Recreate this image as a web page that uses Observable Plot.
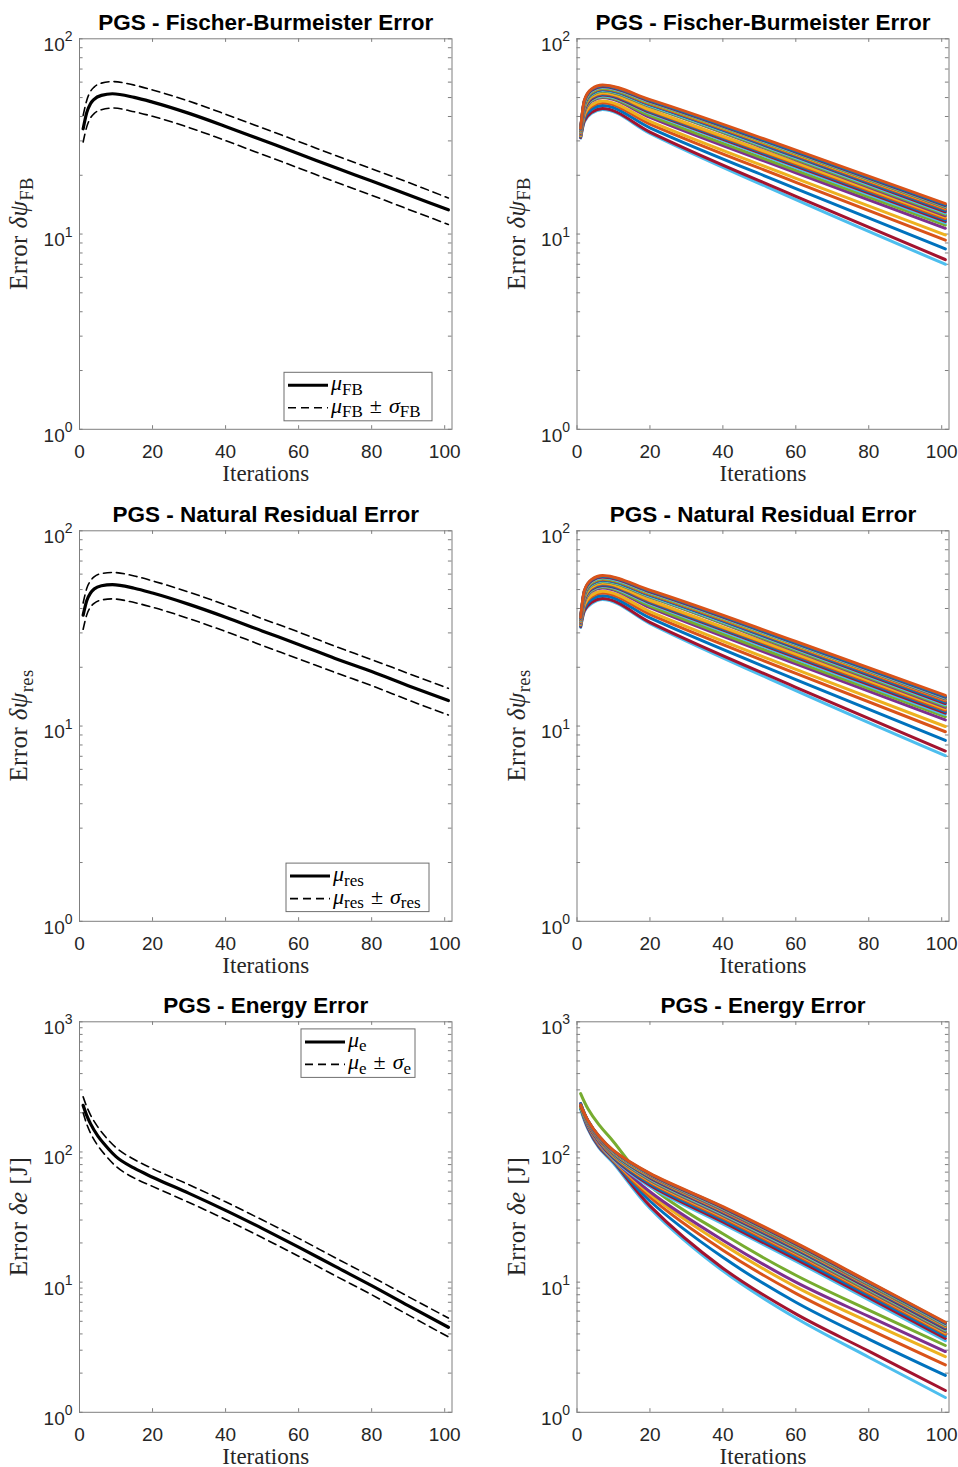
<!DOCTYPE html>
<html><head><meta charset="utf-8">
<script src="https://cdn.jsdelivr.net/npm/d3@7"></script>
<script src="https://cdn.jsdelivr.net/npm/@observablehq/plot@0.6"></script>
<style>
html, body { margin:0; padding:0; background:#fff; overflow:hidden; }
#root { position:relative; width:958px; height:1467px; }
.panel { position:absolute; }
</style></head><body><div id="root"></div>
<script>
// ---------------- DATA ----------------
const X_TICKS = [0, 20, 40, 60, 80, 100];
const MINOR_MULT = [2, 3, 4, 5, 6, 7, 8, 9];

// Left column: mean and mean ± std
const ITER_MEAN = [1, 2, 3, 4, 6, 9, 15, 20, 30, 40, 50, 60, 70, 80, 90, 101];
const FB_MEAN  = [34.6, 42.0, 46.5, 49.0, 51.3, 52.3, 50.1, 47.4, 41.5, 35.6, 30.3, 25.8, 21.9, 18.7, 15.9, 13.3];
const FB_UPPER = [40.5, 48.5, 53.7, 56.6, 59.3, 60.4, 57.9, 54.7, 47.9, 41.1, 35.0, 29.8, 25.3, 21.6, 18.4, 15.3];
const FB_LOWER = [29.6, 35.5, 39.3, 41.4, 43.3, 44.2, 42.3, 40.1, 35.1, 30.1, 25.6, 21.8, 18.5, 15.8, 13.4, 11.2];

const NR_MEAN  = [37.0, 44.0, 48.0, 50.3, 52.3, 53.0, 50.8, 48.0, 42.0, 36.1, 30.7, 26.2, 22.2, 19.0, 16.1, 13.5];
const NR_UPPER = [42.7, 50.8, 55.4, 58.1, 60.4, 61.2, 58.7, 55.4, 48.5, 41.7, 35.5, 30.3, 25.6, 21.9, 18.6, 15.6];
const NR_LOWER = [31.3, 37.2, 40.6, 42.5, 44.2, 44.8, 42.9, 40.6, 35.5, 30.5, 25.9, 22.1, 18.8, 16.1, 13.6, 11.4];

const ITER_E_MEAN = [1, 2, 3, 5, 7, 10, 15, 20, 30, 40, 50, 60, 70, 80, 90, 101];
const E_MEAN  = [228, 190, 165, 133, 113, 92, 75, 64, 48.1, 35.6, 25.9, 18.6, 13.2, 9.4, 6.6, 4.5];
const E_UPPER = [265, 222, 193, 156, 132, 108, 87.5, 74.5, 56.0, 41.4, 30.1, 21.7, 15.4, 11.0, 7.75, 5.3];
const E_LOWER = [200, 163, 140, 112, 95, 77.5, 63, 54.4, 40.9, 30.3, 22.0, 15.8, 11.2, 8.0, 5.6, 3.8];

// Right column: individual runs (run 1 .. run 25)
const ITER_RUNS = [1, 2, 4, 7, 20, 60, 101];
const FB_RUNS = [
  [31.0, 37.5, 41.5, 43.5, 32.8, 15.0, 7.0],
  [31.2, 38.0, 42.0, 44.0, 33.3, 15.6, 7.4],
  [31.5, 39.0, 43.5, 45.5, 35.0, 17.1, 8.4],
  [31.8, 40.0, 45.0, 47.0, 36.6, 18.4, 9.3],
  [32.0, 40.8, 45.8, 48.0, 37.8, 19.3, 9.9],
  [32.3, 42.0, 47.8, 50.0, 39.6, 20.6, 10.7],
  [32.5, 42.5, 48.3, 50.5, 40.4, 21.2, 11.1],
  [32.6, 42.8, 48.7, 51.0, 41.5, 21.9, 11.4],
  [32.8, 43.2, 49.2, 51.5, 42.0, 22.3, 11.6],
  [33.0, 43.6, 49.7, 52.0, 42.4, 22.6, 11.8],
  [33.1, 44.0, 50.1, 52.5, 42.9, 22.9, 12.0],
  [33.2, 44.4, 50.6, 53.0, 43.3, 23.2, 12.2],
  [33.4, 45.2, 51.6, 54.0, 45.0, 24.0, 12.4],
  [33.5, 45.2, 51.6, 54.0, 45.1, 24.2, 12.6],
  [33.6, 45.6, 52.0, 54.5, 45.5, 24.6, 12.8],
  [33.8, 46.0, 52.5, 55.0, 46.0, 24.9, 13.0],
  [33.9, 46.0, 52.5, 55.0, 46.1, 25.1, 13.2],
  [34.0, 46.4, 53.0, 55.5, 46.5, 25.4, 13.4],
  [34.1, 46.8, 53.5, 56.0, 47.0, 25.7, 13.6],
  [34.3, 47.8, 54.5, 57.0, 47.8, 26.0, 13.7],
  [34.3, 46.8, 53.5, 56.0, 47.1, 25.9, 13.8],
  [34.4, 47.2, 54.0, 56.5, 47.5, 26.1, 13.9],
  [34.5, 47.6, 54.5, 57.0, 47.9, 26.3, 14.0],
  [34.6, 48.0, 55.0, 57.5, 48.3, 26.5, 14.1],
  [34.8, 48.4, 55.4, 58.0, 48.8, 26.9, 14.3]
];
const NR_RUNS = [
  [32.0, 38.5, 42.4, 44.5, 33.5, 15.2, 7.05],
  [32.3, 39.0, 43.0, 45.0, 34.0, 15.8, 7.45],
  [32.6, 40.0, 44.5, 46.5, 35.8, 17.3, 8.45],
  [33.0, 41.0, 46.0, 48.0, 37.3, 18.6, 9.35],
  [33.2, 41.8, 46.8, 49.0, 38.6, 19.5, 9.95],
  [33.5, 43.0, 48.8, 51.0, 40.4, 20.8, 10.75],
  [33.7, 43.5, 49.3, 51.5, 41.2, 21.4, 11.15],
  [33.8, 43.8, 49.7, 52.0, 42.3, 22.1, 11.45],
  [34.0, 44.2, 50.2, 52.5, 42.8, 22.5, 11.65],
  [34.2, 44.6, 50.7, 53.0, 43.2, 22.8, 11.85],
  [34.3, 45.0, 51.1, 53.5, 43.7, 23.1, 12.05],
  [34.4, 45.4, 51.6, 54.0, 44.1, 23.4, 12.25],
  [34.6, 46.2, 52.6, 55.0, 45.8, 24.2, 12.45],
  [34.7, 46.2, 52.6, 55.0, 45.9, 24.4, 12.65],
  [34.8, 46.6, 53.0, 55.5, 46.3, 24.8, 12.85],
  [35.0, 47.0, 53.5, 56.0, 46.8, 25.1, 13.05],
  [35.1, 47.0, 53.5, 56.0, 46.9, 25.3, 13.25],
  [35.2, 47.4, 54.0, 56.5, 47.3, 25.6, 13.45],
  [35.3, 47.8, 54.5, 57.0, 47.8, 25.9, 13.65],
  [35.5, 48.8, 55.5, 58.0, 48.6, 26.2, 13.75],
  [35.5, 47.8, 54.5, 57.0, 47.9, 26.1, 13.85],
  [35.6, 48.2, 55.0, 57.5, 48.3, 26.3, 13.95],
  [35.7, 48.6, 55.5, 58.0, 48.7, 26.5, 14.05],
  [35.8, 49.0, 56.0, 58.5, 49.1, 26.7, 14.15],
  [36.0, 49.4, 56.4, 59.0, 49.6, 27.1, 14.35]
];
const ITER_E_RUNS = [1, 3, 6, 10, 20, 40, 60, 80, 101];
const E_RUNS = [
  [212, 150, 108, 82, 37, 12.2, 5.3, 2.65, 1.30],
  [218, 153, 110, 84, 38.5, 12.8, 5.7, 2.95, 1.47],
  [220, 156, 112, 85, 42, 15.5, 7.0, 3.65, 1.92],
  [222, 159, 114, 86, 45, 17.6, 8.2, 4.35, 2.31],
  [224, 161, 116, 87, 47.5, 19.5, 9.2, 4.95, 2.68],
  [225, 163, 117, 88, 49.5, 21.0, 10.0, 5.45, 2.93],
  [281, 215, 162, 120, 55, 23.5, 11.3, 6.1, 3.26],
  [222, 160, 118, 88, 54, 28.0, 14.5, 7.3, 3.55],
  [226, 161.5, 119.5, 89.5, 55.5, 29.0, 15.0, 7.6, 3.70],
  [218, 163, 121, 91, 57, 30.0, 15.6, 7.9, 3.85],
  [230, 164.5, 122.5, 92.5, 58.5, 31.0, 16.2, 8.2, 3.98],
  [224, 165.5, 123.5, 93.5, 59.7, 31.8, 16.6, 8.4, 4.08],
  [232, 166.5, 124.5, 94.5, 60.7, 32.4, 16.9, 8.55, 4.16],
  [220, 167.5, 125.5, 95.5, 61.6, 33.0, 17.2, 8.7, 4.24],
  [228, 168.3, 126.3, 96.3, 62.4, 33.5, 17.5, 8.85, 4.31],
  [234, 169, 127, 97, 63.2, 34.0, 17.8, 9.0, 4.38],
  [226, 169.7, 127.7, 97.7, 64.0, 34.5, 18.1, 9.15, 4.45],
  [230, 170.4, 128.4, 98.4, 64.8, 35.0, 18.4, 9.3, 4.52],
  [222, 171, 129, 99, 65.4, 35.4, 18.6, 9.4, 4.58],
  [236, 171.6, 129.6, 99.6, 66.0, 35.8, 18.8, 9.5, 4.64],
  [228, 172.2, 130.2, 100.2, 66.6, 36.3, 19.1, 9.65, 4.70],
  [232, 172.8, 130.8, 100.8, 67.2, 36.8, 19.4, 9.8, 4.76],
  [226, 173.4, 131.4, 101.4, 67.6, 37.2, 19.6, 9.9, 4.82],
  [234, 174, 132, 102, 68.0, 37.6, 19.8, 10.0, 4.87],
  [230, 174.6, 132.6, 102.6, 68.4, 38.0, 20.0, 10.1, 4.92]
];

const TITLES = ["PGS - Fischer-Burmeister Error", "PGS - Natural Residual Error", "PGS - Energy Error"];
const SUBS = ["FB", "res", "e"];

// ---------------- STYLE / LAYOUT ----------------
const PALETTE = ["#0072BD", "#D95319", "#EDB120", "#7E2F8E", "#77AC30", "#4DBEEE", "#A2142F"];
const SANS = "'Liberation Sans', Arial, Helvetica, sans-serif";
const SERIF = "'Liberation Serif', 'Times New Roman', serif";
const AX = "#7f7f7f";
const TXT = "#262626";
const H = 491, MT = 38.3, MB = 62.2, TL = 3.6;
const COLS = [
  {left: 0, width: 479, ml: 79, mr: 27.5},
  {left: 497, width: 461, ml: 79.5, mr: 9.5}
];
const ROW_TOPS = [0, 492, 983.3];

function toPts(xs, ys) { return xs.map((x, i) => ({x, y: ys[i]})); }

function addRich(textSel, parts, fs, subFs, shift) {
  let cur = 0;
  for (const p of parts) {
    const ts = textSel.append("tspan").text(p.t);
    const target = p.sub ? shift : 0;
    if (target !== cur) { ts.attr("dy", target - cur); cur = target; }
    ts.attr("font-size", p.sub ? subFs : fs);
    if (p.it) ts.attr("font-style", "italic");
    if (p.dx) ts.attr("dx", p.dx);
  }
}

function panel(p) {
  const C = COLS[p.col], top = ROW_TOPS[p.row];
  const fw = C.width - C.ml - C.mr, fh = H - MT - MB;
  const e0 = Math.round(Math.log10(p.yDomain[0])), e1 = Math.round(Math.log10(p.yDomain[1]));
  const decades = d3.range(e0, e1 + 1).map(e => 10 ** e);
  const minor = decades.slice(0, -1).flatMap(d => MINOR_MULT.map(m => m * d));
  const yTicks = decades.concat(minor);
  const marks = [
    Plot.frame({stroke: AX, strokeWidth: 1}),
    Plot.tickY(yTicks, {stroke: AX, insetRight: fw - TL}),
    Plot.tickY(yTicks, {stroke: AX, insetLeft: fw - TL}),
    Plot.tickX(X_TICKS, {stroke: AX, insetBottom: fh - TL}),
    Plot.tickX(X_TICKS, {stroke: AX, insetTop: fh - TL}),
    Plot.axisX(X_TICKS, {tickSize: 0, tickPadding: 15, fontSize: 19, fontFamily: SANS, fill: TXT, label: null}),
    Plot.axisY(decades, {tickSize: 0, tickPadding: 7, fontSize: 19, fontFamily: SANS, fill: TXT, label: null,
      tickFormat: d => "10^" + Math.round(Math.log10(d))}),
    ...p.marks,
    Plot.text([p.title], {text: d => d, frameAnchor: "top", dy: -9, lineAnchor: "bottom",
      fontSize: 22.5, fontWeight: "bold", fontFamily: SANS, fill: "#000"}),
    Plot.text(["Iterations"], {text: d => d, frameAnchor: "bottom", dy: 52, lineAnchor: "bottom",
      fontSize: 23, fontFamily: SERIF, fill: TXT, letterSpacing: 0.5})
  ];
  const svg = Plot.plot({
    width: C.width, height: H,
    marginLeft: C.ml, marginRight: C.mr, marginTop: MT, marginBottom: MB,
    x: {domain: [0, 102]},
    y: {type: "log", domain: p.yDomain},
    style: {background: "transparent", overflow: "visible"},
    marks
  });
  const s = d3.select(svg);
  // superscript exponents on y tick labels
  s.selectAll('g[aria-label="y-axis tick label"] text').each(function() {
    const [b, e] = this.textContent.split("^");
    this.textContent = b;
    d3.select(this).attr("dy", 6.3);
    d3.select(this).append("tspan").attr("dy", -9.7).attr("font-size", 14).text(e);
  });
  // y label
  const yl = s.append("text")
    .attr("transform", `translate(${C.ml - 52},${MT + fh / 2}) rotate(-90)`)
    .attr("text-anchor", "middle").attr("font-family", SERIF).attr("fill", TXT)
    .attr("letter-spacing", 0.4);
  addRich(yl, p.yLabel, 25, 18.5, 5.5);
  // legend
  if (p.legend) {
    const L = p.legend;
    const g = s.append("g").attr("transform", `translate(${C.ml + L.x},${MT + L.y})`);
    g.append("rect").attr("width", L.w).attr("height", 48.5)
      .attr("fill", "#fff").attr("stroke", "#6f6f6f").attr("stroke-width", 1);
    const rows = [
      {y: 13, dash: null, sw: 3, parts: [{t: "μ", it: true}, {t: L.sub, sub: true}]},
      {y: 35.5, dash: "8,5", sw: 1.6, parts: [{t: "μ", it: true}, {t: L.sub, sub: true}, {t: "±", dx: 7}, {t: "σ", it: true, dx: 7}, {t: L.sub, sub: true}]}
    ];
    for (const r of rows) {
      const ln = g.append("line").attr("x1", 4).attr("x2", 44).attr("y1", r.y).attr("y2", r.y)
        .attr("stroke", "#000").attr("stroke-width", r.sw);
      if (r.dash) ln.attr("stroke-dasharray", r.dash);
      const t = g.append("text").attr("x", 47).attr("y", r.y + 5)
        .attr("text-anchor", "start")
        .attr("font-family", SERIF).attr("fill", "#000");
      addRich(t, r.parts, 22, 17, 4.5);
    }
  }
  const div = document.createElement("div");
  div.className = "panel";
  div.style.left = C.left + "px";
  div.style.top = top + "px";
  div.style.width = C.width + "px";
  div.style.height = H + "px";
  div.appendChild(svg);
  document.getElementById("root").appendChild(div);
}

function meanMarks(xs, mean, up, lo) {
  return [
    Plot.line(toPts(xs, up), {x: "x", y: "y", stroke: "#000", strokeWidth: 1.6, strokeDasharray: "8,5", curve: "monotone-x"}),
    Plot.line(toPts(xs, lo), {x: "x", y: "y", stroke: "#000", strokeWidth: 1.6, strokeDasharray: "8,5", curve: "monotone-x"}),
    Plot.line(toPts(xs, mean), {x: "x", y: "y", stroke: "#000", strokeWidth: 3.2, curve: "monotone-x"})
  ];
}
function runMarks(xs, runs, curve) {
  return runs.map((vals, i) => Plot.line(toPts(xs, vals),
    {x: "x", y: "y", stroke: PALETTE[(i + 5) % 7], strokeWidth: 3, curve}));
}
function psiLabel(sub) { return [{t: "Error "}, {t: "δψ", it: true}, {t: sub, sub: true}]; }
const E_LABEL = [{t: "Error "}, {t: "δe", it: true}, {t: "[J]", dx: 7}];

panel({col: 0, row: 0, yDomain: [1, 100], title: TITLES[0], yLabel: psiLabel(SUBS[0]),
  marks: meanMarks(ITER_MEAN, FB_MEAN, FB_UPPER, FB_LOWER),
  legend: {x: 205, y: 334, w: 148, sub: SUBS[0]}});
panel({col: 1, row: 0, yDomain: [1, 100], title: TITLES[0], yLabel: psiLabel(SUBS[0]),
  marks: runMarks(ITER_RUNS, FB_RUNS, "monotone-x")});
panel({col: 0, row: 1, yDomain: [1, 100], title: TITLES[1], yLabel: psiLabel(SUBS[1]),
  marks: meanMarks(ITER_MEAN, NR_MEAN, NR_UPPER, NR_LOWER),
  legend: {x: 207, y: 332.8, w: 143, sub: SUBS[1]}});
panel({col: 1, row: 1, yDomain: [1, 100], title: TITLES[1], yLabel: psiLabel(SUBS[1]),
  marks: runMarks(ITER_RUNS, NR_RUNS, "monotone-x")});
panel({col: 0, row: 2, yDomain: [1, 1000], title: TITLES[2], yLabel: E_LABEL,
  marks: meanMarks(ITER_E_MEAN, E_MEAN, E_UPPER, E_LOWER),
  legend: {x: 222, y: 7.6, w: 114, sub: SUBS[2]}});
panel({col: 1, row: 2, yDomain: [1, 1000], title: TITLES[2], yLabel: E_LABEL,
  marks: runMarks(ITER_E_RUNS, E_RUNS, "catmull-rom")});
</script></body></html>
